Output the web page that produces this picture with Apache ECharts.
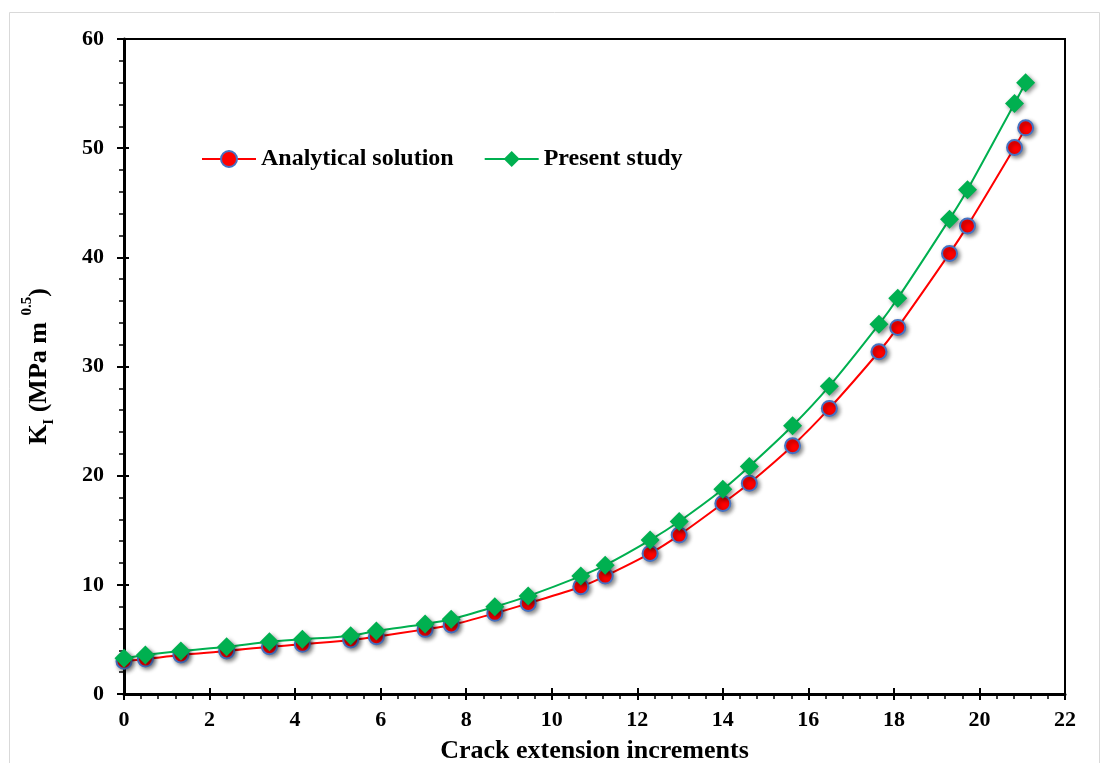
<!DOCTYPE html>
<html>
<head>
<meta charset="utf-8">
<script src="https://cdn.jsdelivr.net/npm/echarts@6/dist/echarts.min.js"></script>
<style>
html,body{margin:0;padding:0;background:#fff;}
#chart{width:1100px;height:763px;}
</style>
</head>
<body>
<div id="chart"></div>
<script>
const xValues = [0, 0.5, 1.33, 2.4, 3.4, 4.17, 5.3, 5.9, 7.04, 7.65, 8.67, 9.45, 10.68, 11.25, 12.3, 12.98, 14.0, 14.62, 15.63, 16.49, 17.65, 18.09, 19.3, 19.72, 20.82, 21.08];
const analytical = [3.0, 3.2, 3.57, 3.94, 4.33, 4.55, 4.95, 5.25, 5.92, 6.32, 7.39, 8.30, 9.83, 10.8, 12.88, 14.56, 17.46, 19.3, 22.74, 26.16, 31.35, 33.58, 40.36, 42.88, 50.06, 51.86];
const present = [3.27, 3.57, 3.94, 4.33, 4.79, 5.01, 5.34, 5.77, 6.41, 6.84, 7.99, 8.97, 10.8, 11.8, 14.1, 15.8, 18.75, 20.85, 24.57, 28.2, 33.86, 36.25, 43.5, 46.2, 54.1, 56.0];
const seriesNames = ['Analytical solution', 'Present study'];
const xAxisTitle = 'Crack extension increments';

const font = '"Liberation Serif", "Times New Roman", serif';
const chart = echarts.init(document.getElementById('chart'), null, {renderer: 'canvas'});
const pair = (ys) => xValues.map((x, i) => [x, ys[i]]);

const labelStyle = {fontFamily: font, fontWeight: 'bold', fontSize: 22, color: '#000'};

chart.setOption({
  backgroundColor: '#fff',
  animation: false,
  graphic: [{
    type: 'rect', left: 7, top: 10, z: -10,
    shape: {width: 1090, height: 800},
    style: {fill: 'none', stroke: '#D9D9D9', lineWidth: 1}
  }],
  grid: {left: 124, right: 35, top: 39, bottom: 69, containLabel: false, outerBoundsMode: 'none',
    show: true, borderColor: '#000', borderWidth: 2, backgroundColor: 'transparent'},
  legend: {
    left: 196, top: 142,
    itemWidth: 54, itemHeight: 20, itemGap: 30,
    textStyle: {fontFamily: font, fontWeight: 'bold', fontSize: 24, color: '#000'},
    data: seriesNames
  },
  xAxis: [{
    type: 'value', min: 0, max: 22, interval: 2,
    name: xAxisTitle, nameLocation: 'middle', nameGap: 44,
    nameTextStyle: {fontFamily: font, fontWeight: 'bold', fontSize: 26, color: '#000'},
    axisLine: {show: true, lineStyle: {color: '#000', width: 3}},
    axisTick: {show: true, inside: false, length: 6, lineStyle: {color: '#000', width: 2}},
    minorTick: {show: true, splitNumber: 5, length: 5, lineStyle: {color: '#000', width: 1.5}},
    splitLine: {show: false},
    axisLabel: Object.assign({margin: 15}, labelStyle)
  }, {
    type: 'value', min: 0, max: 22, interval: 2, position: 'bottom',
    axisLine: {show: false},
    axisTick: {show: true, inside: true, length: 6, lineStyle: {color: '#000', width: 2}},
    axisLabel: {show: false}, splitLine: {show: false}
  }],
  yAxis: [{
    type: 'value', min: 0, max: 60, interval: 10,
    name: '{a|K}{sub|I}{a| (MPa m }{sup|0.5}{a|)}',
    nameLocation: 'middle', nameGap: 72, nameRotate: 90,
    nameTextStyle: {
      color: '#000',
      rich: {
        a: {fontFamily: font, fontWeight: 'bold', fontSize: 26, color: '#000', lineHeight: 32, verticalAlign: 'bottom'},
        sub: {fontFamily: font, fontWeight: 'bold', fontSize: 15, color: '#000', lineHeight: 24, verticalAlign: 'bottom', padding: [0, 0, -5, 0]},
        sup: {fontFamily: font, fontWeight: 'bold', fontSize: 15, color: '#000', lineHeight: 32, verticalAlign: 'top'}
      }
    },
    axisLine: {show: true, lineStyle: {color: '#000', width: 3}},
    axisTick: {show: true, inside: false, length: 7, lineStyle: {color: '#000', width: 2}},
    minorTick: {show: true, splitNumber: 5, length: 5, lineStyle: {color: '#000', width: 1.5}},
    splitLine: {show: false},
    axisLabel: Object.assign({margin: 20}, labelStyle)
  }, {
    type: 'value', min: 0, max: 60, interval: 10, position: 'left',
    axisLine: {show: false},
    axisTick: {show: true, inside: true, length: 5, lineStyle: {color: '#000', width: 2}},
    axisLabel: {show: false}, splitLine: {show: false}
  }],
  series: [
    {
      name: seriesNames[0], type: 'line', data: pair(analytical), smooth: 0.3,
      symbol: 'circle', symbolSize: 15,
      lineStyle: {color: '#FF0000', width: 2},
      itemStyle: {color: '#FF0000', borderColor: '#4472C4', borderWidth: 2,
        shadowBlur: 4, shadowColor: 'rgba(0,0,0,0.45)', shadowOffsetX: 2, shadowOffsetY: 2},
      z: 2
    },
    {
      name: seriesNames[1], type: 'line', data: pair(present), smooth: 0.3,
      symbol: 'diamond', symbolSize: [19, 19],
      lineStyle: {color: '#00B050', width: 2},
      itemStyle: {color: '#00B050', borderWidth: 0,
        shadowBlur: 4, shadowColor: 'rgba(0,0,0,0.45)', shadowOffsetX: 2, shadowOffsetY: 2},
      z: 3
    }
  ]
});
</script>
</body>
</html>
